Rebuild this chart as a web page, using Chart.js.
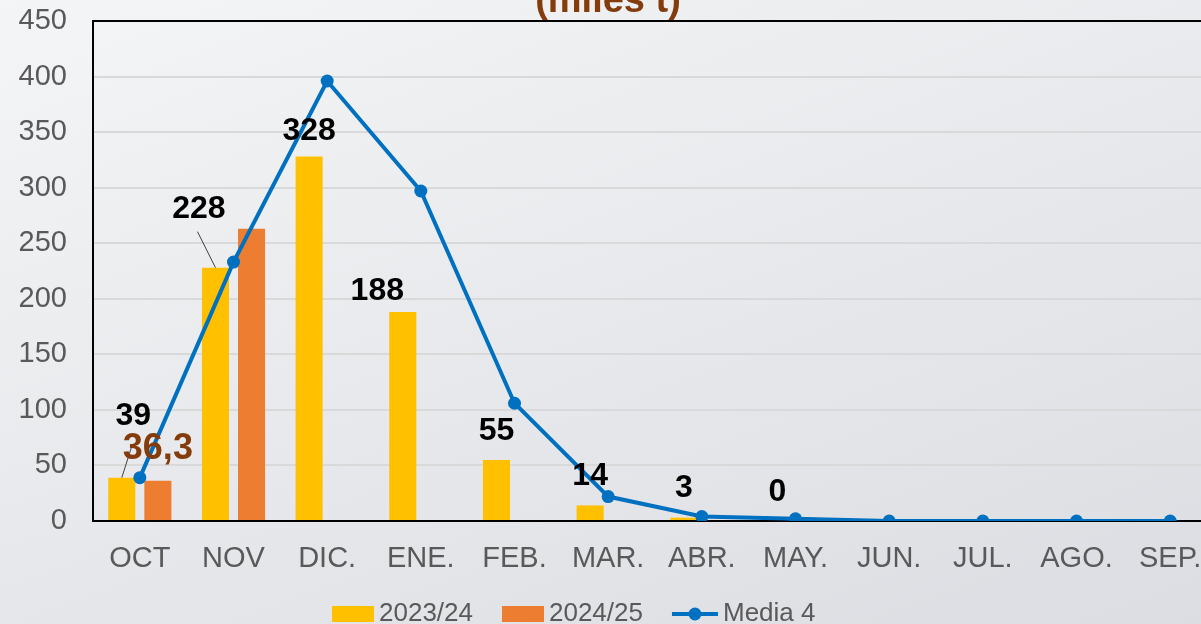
<!DOCTYPE html>
<html>
<head>
<meta charset="utf-8">
<script src="https://cdn.jsdelivr.net/npm/chart.js@4.4.1/dist/chart.umd.min.js"></script>
<style>
  html, body {
    margin: 0;
    padding: 0;
    width: 1201px;
    height: 624px;
    overflow: hidden;
    background: linear-gradient(160deg, #f4f5f6 0%, #dcdde2 100%);
  }
  #wrap { position: absolute; left: 0; top: 0; width: 1230px; height: 640px; }
</style>
</head>
<body>
<div id="wrap"><canvas id="myChart" width="1230" height="640"></canvas></div>
<script>
const months = ['OCT', 'NOV', 'DIC.', 'ENE.', 'FEB.', 'MAR.', 'ABR.', 'MAY.', 'JUN.', 'JUL.', 'AGO.', 'SEP.'];
const season2324 = [39, 228, 328, 188, 55, 14, 3, 0, null, null, null, null];
const season2425 = [36.3, 263, null, null, null, null, null, null, null, null, null, null];
const media4 = [39, 233, 396, 297, 106, 22, 4, 2, 0, 0, 0, 0];
const yMin = 0, yMax = 450, yStep = 50;

const FONT = '"Liberation Sans", Arial, sans-serif';
const fmt = v => String(v).replace('.', ',');

// recuadro del area de trazado + titulo cortado arriba
const frame = {
  id: 'frame',
  beforeDatasetsDraw(chart) {
    const { ctx, chartArea: a } = chart;
    ctx.save();
    ctx.strokeStyle = '#000';
    ctx.lineWidth = 2;
    ctx.strokeRect(a.left, a.top, a.right - a.left, a.bottom - a.top);
    ctx.restore();
  },
  afterDraw(chart) {
    const ctx = chart.ctx;
    ctx.save();
    ctx.fillStyle = '#843C0C';
    ctx.font = 'bold 38px ' + FONT;
    ctx.textAlign = 'center';
    ctx.textBaseline = 'alphabetic';
    ctx.fillText('(miles t)', 608, 12);
    ctx.restore();
  }
};

// etiquetas de valor sobre las barras
const barLabels = {
  id: 'barLabels',
  afterDatasetsDraw(chart, args, opts) {
    const ctx = chart.ctx;
    ctx.save();
    ctx.textAlign = 'center';
    ctx.textBaseline = 'middle';

    const meta0 = chart.getDatasetMeta(1);
    meta0.data.forEach((bar, i) => {
      const v = season2324[i];
      if (v === null) return;
      const off = opts.offsets[i] || [0, opts.defaultDy];
      const lead = opts.leaders[i];
      if (lead) {
        ctx.strokeStyle = '#404040';
        ctx.lineWidth = 1;
        ctx.beginPath();
        ctx.moveTo(bar.x, bar.y);
        ctx.lineTo(bar.x + lead[0], bar.y + lead[1]);
        ctx.stroke();
      }
      ctx.fillStyle = '#000';
      ctx.font = 'bold 32px ' + FONT;
      ctx.fillText(fmt(v), bar.x + off[0], bar.y + off[1]);
    });

    const meta1 = chart.getDatasetMeta(2);
    opts.orangeIdx.forEach(i => {
      const bar = meta1.data[i];
      ctx.fillStyle = '#843C0C';
      ctx.font = 'bold 36px ' + FONT;
      ctx.fillText(fmt(season2425[i]), bar.x, bar.y - 32);
    });
    ctx.restore();
  }
};

// leyenda estilo Excel
const excelLegend = {
  id: 'excelLegend',
  afterDraw(chart) {
    const ctx = chart.ctx;
    const ds = chart.data.datasets;
    const items = [ds[1], ds[2], ds[0]];
    let x = 332;
    const y = 614;
    ctx.save();
    ctx.font = '26px ' + FONT;
    ctx.textBaseline = 'middle';
    ctx.textAlign = 'left';
    items.forEach(d => {
      if (d.type === 'line') {
        ctx.strokeStyle = d.borderColor;
        ctx.lineWidth = 4;
        ctx.beginPath();
        ctx.moveTo(x, y);
        ctx.lineTo(x + 46, y);
        ctx.stroke();
        ctx.fillStyle = d.borderColor;
        ctx.beginPath();
        ctx.arc(x + 23, y, 6.5, 0, Math.PI * 2);
        ctx.fill();
        x += 51;
      } else {
        ctx.fillStyle = d.backgroundColor;
        ctx.fillRect(x, y - 8, 42, 16);
        x += 47;
      }
      ctx.fillStyle = '#595959';
      ctx.fillText(d.label, x, y);
      x += ctx.measureText(d.label).width + 29;
    });
    ctx.restore();
  }
};

const ctx = document.getElementById('myChart').getContext('2d');
new Chart(ctx, {
  data: {
    labels: months,
    datasets: [
      {
        type: 'line',
        label: 'Media 4',
        data: media4,
        borderColor: '#0070C0',
        backgroundColor: '#0070C0',
        borderWidth: 4,
        pointRadius: 6.5,
        pointBackgroundColor: '#0070C0',
        pointBorderWidth: 0,
        tension: 0,
        order: 0,
      },
      {
        type: 'bar',
        label: '2023/24',
        data: season2324,
        backgroundColor: '#FFC000',
        categoryPercentage: 0.77,
        barPercentage: 0.75,
        order: 1,
      },
      {
        type: 'bar',
        label: '2024/25',
        data: season2425,
        backgroundColor: '#ED7D31',
        categoryPercentage: 0.77,
        barPercentage: 0.75,
        order: 1,
      },
    ],
  },
  options: {
    responsive: false,
    devicePixelRatio: 1,
    animation: false,
    layout: { padding: { left: 0, top: 21, right: 13, bottom: 59 } },
    plugins: {
      legend: { display: false },
      tooltip: { enabled: false },
      barLabels: {
        offsets: { 0: [11.5, -61], 1: [-16.5, -58], 2: [0, -25], 3: [-25.5, -21] },
        defaultDy: -29,
        leaders: { 0: [9.5, -30], 1: [-18, -36] },
        orangeIdx: [0],
      },
    },
    scales: {
      x: {
        offset: true,
        grid: { display: false, drawTicks: false },
        border: { display: false },
        ticks: { color: '#595959', font: { family: FONT, size: 29 }, padding: 21, maxRotation: 0, autoSkip: false },
        afterFit(scale) { scale.height = 60; scale.paddingLeft = 0; scale.paddingRight = 0; },
      },
      y: {
        min: yMin,
        max: yMax,
        grid: { color: '#d9d9d9', lineWidth: 2, drawTicks: false },
        border: { display: false },
        ticks: { stepSize: yStep, color: '#595959', font: { family: FONT, size: 29 }, padding: 26 },
        afterFit(scale) { scale.width = 93; scale.paddingTop = 0; scale.paddingBottom = 0; },
      },
    },
  },
  plugins: [frame, barLabels, excelLegend],
});
</script>
</body>
</html>
